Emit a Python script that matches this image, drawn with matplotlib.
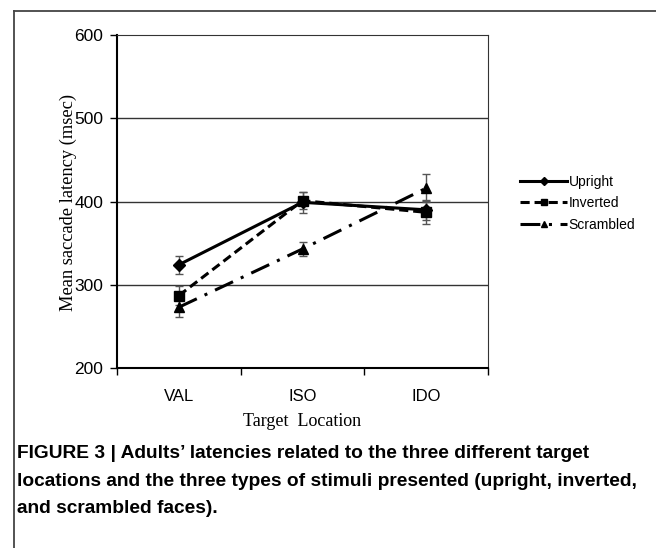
import matplotlib
matplotlib.use("Agg")
import matplotlib.pyplot as plt
from matplotlib.lines import Line2D
import numpy as np

# saccade latency by target location, three stimulus types
locations = ["VAL", "ISO", "IDO"]
upright = [324, 399, 390]
upright_err = [11, 13, 12]
inverted = [287, 401, 387]
inverted_err = [11, 10, 14]
scrambled = [273, 343, 416]
scrambled_err = [12, 8, 17]

W, H = 656, 548
fig = plt.figure(figsize=(W / 100, H / 100), dpi=100)
ax = fig.add_axes([117 / W, 1 - 368 / H, (488 - 117) / W, (368 - 35) / H])

x = np.arange(len(locations))
ecol = "#555555"
series = [
    ("Upright", upright, upright_err, "D", 6, "-"),
    ("Inverted", inverted, inverted_err, "s", 6.5, (0, (3, 1.6))),
    ("Scrambled", scrambled, scrambled_err, "^", 7, (0, (6.5, 2.8, 1, 2.8))),
]
handles = []
for name, vals, err, mk, ms, ls in series:
    ax.errorbar(x, vals, yerr=err, color="black", lw=2.2, marker=mk, ms=ms,
                ecolor=ecol, elinewidth=1, capsize=3, capthick=1,
                linestyle=ls, zorder=3)
    handles.append(Line2D([], [], color="black", lw=2.2, marker=mk,
                          ms=ms * 0.7, linestyle=ls, label=name))

ax.set_xlim(-0.5, 2.5)
ax.set_ylim(200, 600)
ax.set_yticks([200, 300, 400, 500, 600])
for v in [300, 400, 500]:
    ax.axhline(v, color="#333333", lw=1, zorder=1)

ax.set_xticks(x)
ax.set_xticklabels(locations, fontname="Liberation Sans", fontsize=12)
ax.set_xticks([-0.5, 0.5, 1.5, 2.5], minor=True)
ax.tick_params(axis="x", which="major", length=0, pad=15)
ax.tick_params(axis="x", which="minor", length=5, width=1, direction="out")
ax.tick_params(axis="y", length=5, width=1, direction="out", pad=5)
for lab in ax.get_yticklabels():
    lab.set_fontname("Liberation Sans")
    lab.set_fontsize(12.5)

for s in ["top", "right"]:
    ax.spines[s].set_linewidth(0.8)
    ax.spines[s].set_color("#333333")
for s in ["left", "bottom"]:
    ax.spines[s].set_linewidth(1.5)

fig.text(68 / W, 1 - 202 / H, "Mean saccade latency (msec)", rotation=90,
         ha="center", va="center", fontname="Liberation Serif", fontsize=13.3)
fig.text(302 / W, 1 - 422 / H, "Target  Location", ha="center", va="center",
         fontname="Liberation Serif", fontsize=13)

leg = ax.legend(handles=handles, loc="center left",
                bbox_to_anchor=((520 - 117) / 371, 0.495),
                frameon=False, borderpad=0, borderaxespad=0, handlelength=3.4,
                handletextpad=0.1, labelspacing=0.55,
                prop={"family": "Liberation Sans", "size": 10})

# caption
caption = ("FIGURE 3 | Adults\u2019 latencies related to the three different target\n"
           "locations and the three types of stimuli presented (upright, inverted,\n"
           "and scrambled faces).")
fig.text(17 / W, 1 - 445 / H, caption, ha="left", va="top",
         fontname="Liberation Sans", fontweight="bold", fontsize=13.8,
         linespacing=1.82)

# outer frame of the figure panel
fig.add_artist(Line2D([14 / W, 14 / W], [1 - 11 / H, 0], transform=fig.transFigure,
                      color="#444444", lw=1.3))
fig.add_artist(Line2D([14 / W, 1], [1 - 11 / H, 1 - 11 / H], transform=fig.transFigure,
                      color="#444444", lw=1.3))

fig.savefig("out.png", dpi=100)
